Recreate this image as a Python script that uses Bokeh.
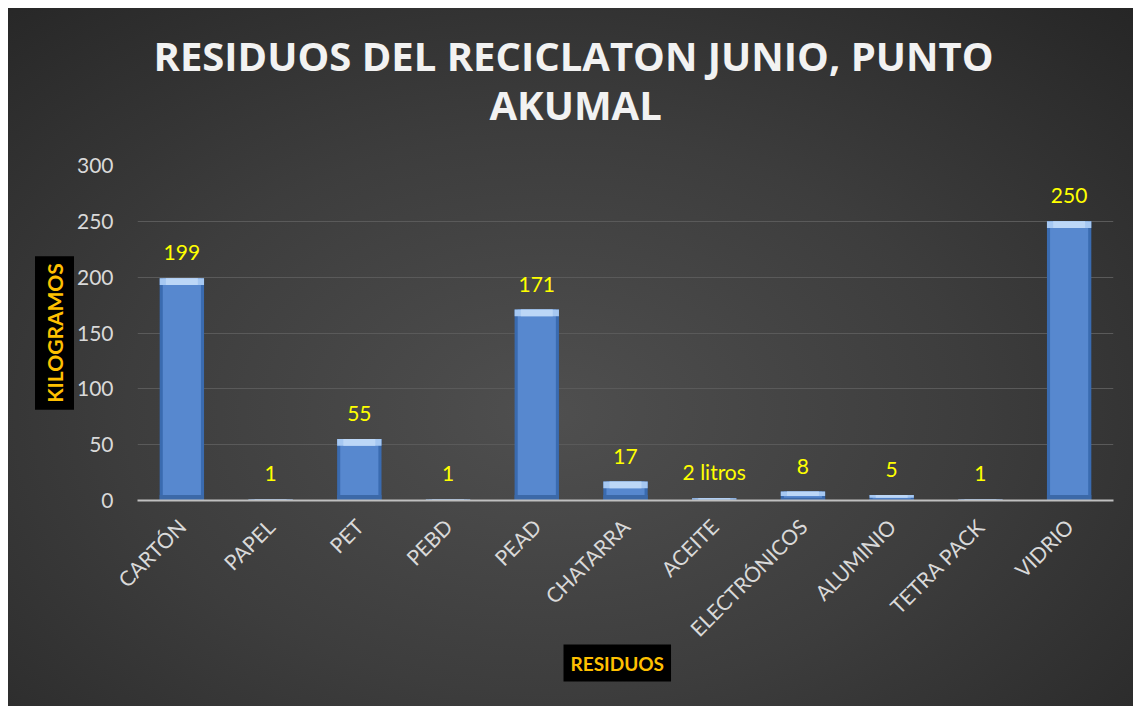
import math
from bokeh.plotting import figure
from bokeh.models import ColumnDataSource, Range1d, FactorRange, LabelSet, Title
from bokeh.core.properties import value
from bokeh.embed import file_html
from bokeh.resources import INLINE

categories = ["CARTÓN", "PAPEL", "PET", "PEBD", "PEAD", "CHATARRA", "ACEITE",
              "ELECTRÓNICOS", "ALUMINIO", "TETRA PACK", "VIDRIO"]
kilos = [199, 1, 55, 1, 171, 17, 2, 8, 5, 1, 250]
value_labels = ["199", "1", "55", "1", "171", "17", "2 litros", "8", "5", "1", "250"]
y_ticks = [0, 50, 100, 150, 200, 250, 300]
title_lines = ["RESIDUOS DEL RECICLATON JUNIO, PUNTO", "AKUMAL"]
x_title = "RESIDUOS"
y_title = "KILOGRAMOS"

W, H = 1125, 698
p = figure(width=W, height=H,
           x_range=FactorRange(*categories, range_padding=0),
           y_range=Range1d(0, 300),
           output_backend="svg", toolbar_location=None,
           min_border_left=129, min_border_right=20,
           min_border_top=157, min_border_bottom=206)

p.background_fill_color = None
p.border_fill_color = None
p.outline_line_color = None
p.styles = {"margin": "8px 0 0 8px",
            "background": "radial-gradient(ellipse 75% 80% at 48% 58%, #4f4f4f 0%, #3d3d3d 50%, #262626 100%)"}

p.xgrid.grid_line_color = None
p.ygrid.grid_line_color = "#5a5a5a"
p.ygrid.grid_line_width = 1

p.yaxis.ticker = y_ticks
p.yaxis.axis_line_color = None
p.yaxis.major_tick_line_color = None
p.yaxis.minor_tick_line_color = None
p.yaxis.major_label_text_color = "#d9d9d9"
p.yaxis.major_label_text_font = "Lato"
p.yaxis.major_label_text_font_size = "21px"
p.yaxis.major_label_standoff = 18

p.xaxis.axis_line_color = "#bfbfbf"
p.xaxis.axis_line_width = 2
p.xaxis.major_tick_line_color = None
p.xaxis.minor_tick_line_color = None
p.xaxis.major_label_orientation = math.pi / 4
p.xaxis.major_label_text_color = "#d9d9d9"
p.xaxis.major_label_text_font = "Lato"
p.xaxis.major_label_text_font_size = "21px"
p.xaxis.major_label_standoff = 16

bevel = [v - min(6.0, v * 0.5) for v in kilos]
base = [min(5.0, v * 0.3) for v in kilos]
src = ColumnDataSource(dict(x=categories, top=kilos, lbl=value_labels, bev=bevel, base=base))

p.vbar(x="x", top="top", width=0.5, fill_color="#3a6bb0", line_color=None, source=src)
p.vbar(x="x", top="top", width=0.43, fill_color="#5788cf", line_color=None, source=src)
p.vbar(x="x", top="base", bottom=0, width=0.5, fill_color="#3c69a8", line_color=None, source=src)
p.vbar(x="x", top="top", bottom="bev", width=0.5, fill_color="#a6c8f2", line_color=None, source=src)
p.vbar(x="x", top="top", bottom="bev", width=0.36, fill_color="#bcd7f7", line_color=None, source=src)

labels = LabelSet(x="x", y="top", text="lbl", y_offset=18, source=src,
                  text_align="center", text_baseline="alphabetic",
                  text_color="#ffff00", text_font=value("Lato"), text_font_size="21px")
p.add_layout(labels)

# title, two lines
t2 = Title(text=title_lines[1], align="left", offset=352, standoff=67,
           text_font="Open Sans", text_font_style="bold", text_font_size="40px",
           text_color="#f2f2f2")
t1 = Title(text=title_lines[0], align="left", offset=16, standoff=-83,
           text_font="Open Sans", text_font_style="bold", text_font_size="40px",
           text_color="#f2f2f2")
p.add_layout(t2, "above")
p.add_layout(t1, "above")

ty = Title(text=y_title, align="center", standoff=-1,
           text_font="Lato", text_font_style="bold", text_font_size="21px",
           text_color="#ffc000", background_fill_color="#000000", padding=7)
p.add_layout(ty, "left")

tx = Title(text=x_title, align="left", offset=426, standoff=-20,
           text_font="Lato", text_font_style="bold", text_font_size="19px",
           text_color="#ffc000", background_fill_color="#000000", padding=7)
p.add_layout(tx, "below")

open("out.html", "w").write(file_html(p, INLINE))
